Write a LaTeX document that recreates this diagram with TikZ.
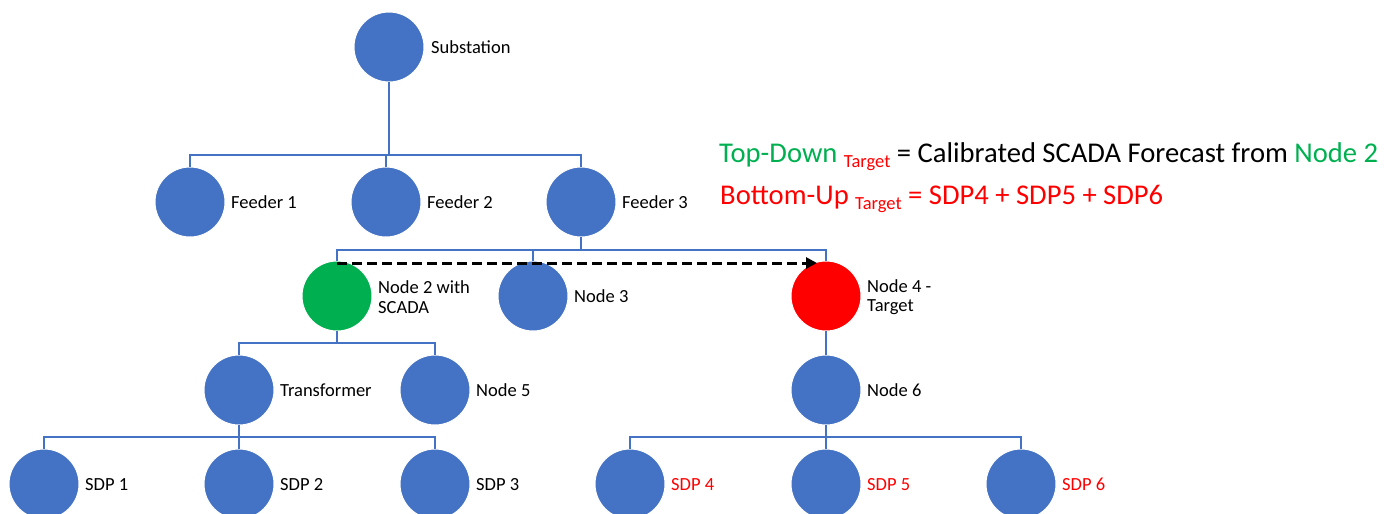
\documentclass[tikz,border=0pt]{standalone}
\usepackage{fontspec}
\setmainfont{Carlito}
\usetikzlibrary{arrows.meta}
\definecolor{nodeblue}{HTML}{4472C4}
\definecolor{scadagreen}{HTML}{00B050}
\definecolor{targetred}{HTML}{FF0000}
\newcommand{\subtarget}{\raisebox{-5pt}{\fontsize{18.5}{20}\selectfont\textcolor{targetred}{Target}}}

\begin{document}
\begin{tikzpicture}[x=1pt,y=-1pt,
  wire/.style={draw=nodeblue,line width=2pt},
  netnode/.style={circle,fill=nodeblue,draw=white,line width=1pt,minimum size=70pt,inner sep=0pt,outer sep=0pt},
  scadanode/.style={netnode,fill=scadagreen},
  targetnode/.style={netnode,fill=targetred},
  lbl/.style={anchor=base west,font=\fontsize{18.5}{19.5}\selectfont,text=black,inner sep=0pt},
  lbltwo/.style={anchor=west,align=left,font=\fontsize{18.5}{19.5}\selectfont,text=black,inner sep=0pt},
  eqn/.style={anchor=base west,font=\fontsize{28.6}{32}\selectfont,inner sep=0pt},
  flow/.style={draw=black,line width=3pt,dash pattern=on 10pt off 5pt,-{Triangle[length=11pt,width=11pt]}}]
\useasboundingbox (0,0) rectangle (1395,514);
\clip (0,0) rectangle (1395,514);

% bus levels
\coordinate (busA) at (0,155);
\coordinate (busB) at (0,250);
\coordinate (busC) at (0,343);
\coordinate (busD) at (0,437);

% network nodes
\node[netnode] (sub) at (389,47) {};
\node[netnode] (f1) at (190,202) {};
\node[netnode] (f2) at (386,202) {};
\node[netnode] (f3) at (581,202) {};
\node[scadanode] (n2) at (337,296) {};
\node[netnode] (n3) at (533,296) {};
\node[targetnode] (n4) at (826,296) {};
\node[netnode] (tr) at (239,390) {};
\node[netnode] (n5) at (435,390) {};
\node[netnode] (n6) at (826,390) {};
\node[netnode] (s1) at (44,484) {};
\node[netnode] (s2) at (239,484) {};
\node[netnode] (s3) at (435,484) {};
\node[netnode] (s4) at (630,484) {};
\node[netnode] (s5) at (826,484) {};
\node[netnode] (s6) at (1021,484) {};

% labels
\node[lbl] (subL) at ([shift={(7,6)}]sub.east) {Substation};
\node[lbl] (f1L) at ([shift={(6,6)}]f1.east) {Feeder 1};
\node[lbl] (f2L) at ([shift={(6,6)}]f2.east) {Feeder 2};
\node[lbl] (f3L) at ([shift={(6,6)}]f3.east) {Feeder 3};
\node[lbltwo] (n2L) at ([shift={(6,1)}]n2.east) {Node 2 with\\SCADA};
\node[lbl] (n3L) at ([shift={(6,6)}]n3.east) {Node 3};
\node[lbltwo] (n4L) at ([shift={(6,1)}]n4.east) {Node 4 -\\Target};
\node[lbl] (trL) at ([shift={(6,6)}]tr.east) {Transformer};
\node[lbl] (n5L) at ([shift={(6,6)}]n5.east) {Node 5};
\node[lbl] (n6L) at ([shift={(6,6)}]n6.east) {Node 6};
\node[lbl] (s1L) at ([shift={(6,6)}]s1.east) {SDP 1};
\node[lbl] (s2L) at ([shift={(6,6)}]s2.east) {SDP 2};
\node[lbl] (s3L) at ([shift={(6,6)}]s3.east) {SDP 3};
\node[lbl,text=targetred] (s4L) at ([shift={(6,6)}]s4.east) {SDP 4};
\node[lbl,text=targetred] (s5L) at ([shift={(6,6)}]s5.east) {SDP 5};
\node[lbl,text=targetred] (s6L) at ([shift={(6,6)}]s6.east) {SDP 6};

% substation to feeders
\draw[wire] (sub.south) -- (sub.south |- busA);
\draw[wire] (f1.north) -- (f1.north |- busA) -- (f3.north |- busA) -- (f3.north);
\draw[wire] (f2.north) -- (f2.north |- busA);

% feeder 3 to nodes 2, 3, 4
\draw[wire] (f3.south) -- (f3.south |- busB);
\draw[wire] (n2.north) -- (n2.north |- busB) -- (n4.north |- busB) -- (n4.north);
\draw[wire] (n3.north) -- (n3.north |- busB);

% node 2 to transformer and node 5
\draw[wire] (n2.south) -- (n2.south |- busC);
\draw[wire] (tr.north) -- (tr.north |- busC) -- (n5.north |- busC) -- (n5.north);

% node 4 to node 6
\draw[wire] (n4.south) -- (n6.north);

% transformer to SDP 1-3
\draw[wire] (tr.south) -- (tr.south |- busD);
\draw[wire] (s1.north) -- (s1.north |- busD) -- (s3.north |- busD) -- (s3.north);
\draw[wire] (s2.north) -- (s2.north |- busD);

% node 6 to SDP 4-6
\draw[wire] (n6.south) -- (n6.south |- busD);
\draw[wire] (s4.north) -- (s4.north |- busD) -- (s6.north |- busD) -- (s6.north);
\draw[wire] (s5.north) -- (s5.north |- busD);

% forecast transfer
\draw[flow,shorten >=9pt] ([yshift=-2pt]n2.north) -- ([yshift=-2pt]n2.north -| n4.north);

% equations
\node[eqn] (td) at (719,162) {\textcolor{scadagreen}{Top-Down}\ \subtarget\ = Calibrated SCADA Forecast from \textcolor{scadagreen}{Node 2}};
\node[eqn,text=targetred] (bu) at (720,204) {Bottom-Up\ \subtarget\ = SDP4 + SDP5 + SDP6};
\end{tikzpicture}
\end{document}
